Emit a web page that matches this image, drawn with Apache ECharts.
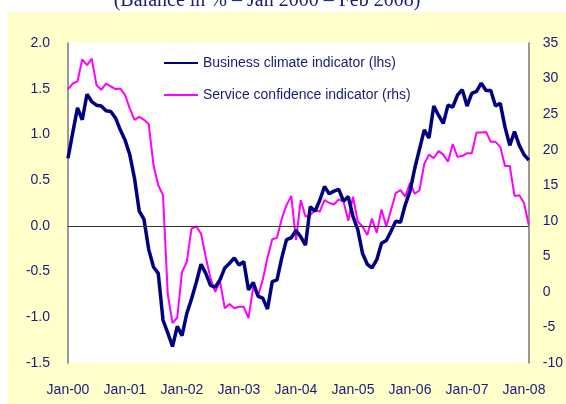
<!DOCTYPE html>
<html>
<head>
<meta charset="utf-8">
<script src="https://cdn.jsdelivr.net/npm/echarts@6/dist/echarts.min.js"></script>
<style>
  html, body { margin: 0; padding: 0; background: #fff; }
  #chart { width: 566px; height: 404px; }
</style>
</head>
<body>
<div id="chart"></div>
<script>
// monthly data, Jan 2000 .. Feb 2008
const monthNames = ["Jan", "Feb", "Mar", "Apr", "May", "Jun", "Jul", "Aug", "Sep", "Oct", "Nov", "Dec"];
const years = ["00", "01", "02", "03", "04", "05", "06", "07", "08"];
const tickLabels = ["Jan-00", "Jan-01", "Jan-02", "Jan-03", "Jan-04", "Jan-05", "Jan-06", "Jan-07", "Jan-08"];

// Business climate indicator (lhs)
const business = [
  0.74, 1.02, 1.29, 1.16, 1.44, 1.36, 1.32, 1.31, 1.26, 1.25,
  1.18, 1.05, 0.94, 0.78, 0.52, 0.16, 0.07, -0.26, -0.45, -0.52,
  -1.03, -1.17, -1.32, -1.10, -1.20, -0.96, -0.80, -0.62, -0.42, -0.52,
  -0.65, -0.67, -0.59, -0.46, -0.41, -0.35, -0.43, -0.39, -0.70, -0.62,
  -0.77, -0.79, -0.91, -0.61, -0.59, -0.35, -0.15, -0.13, -0.05, -0.12,
  -0.21, 0.21, 0.16, 0.28, 0.43, 0.35, 0.38, 0.40, 0.27, 0.32,
  0.10, -0.04, -0.30, -0.42, -0.46, -0.37, -0.19, -0.16, -0.06, 0.05,
  0.04, 0.23, 0.38, 0.63, 0.84, 1.05, 0.96, 1.31, 1.21, 1.12,
  1.32, 1.30, 1.43, 1.49, 1.31, 1.45, 1.47, 1.56, 1.48, 1.48,
  1.31, 1.34, 1.08, 0.88, 1.03, 0.88, 0.78, 0.72
];

// Service confidence indicator (rhs)
const service = [
  28.5, 29.3, 29.6, 32.7, 31.9, 32.8, 29.1, 28.4, 29.3, 28.9,
  28.5, 28.6, 27.7, 25.8, 24.2, 24.6, 24.2, 23.6, 17.8, 15.0,
  13.6, -0.3, -4.4, -3.6, 2.8, 4.2, 8.9, 9.2, 8.2, 4.9,
  1.9, 0.0, 1.5, -2.3, -1.7, -2.3, -2.1, -2.1, -3.7, 0.7,
  -0.6, 1.7, 4.8, 7.4, 7.6, 10.3, 12.2, 13.5, 7.3, 12.9,
  10.6, 10.8, 11.5, 11.3, 12.9, 12.5, 12.3, 13.0, 12.7, 10.0,
  13.4, 9.9, 9.2, 8.0, 10.3, 8.3, 11.6, 9.2, 11.5, 13.9,
  14.3, 13.4, 15.3, 13.8, 14.3, 18.0, 19.3, 18.8, 19.8, 19.3,
  18.3, 20.8, 19.0, 19.1, 19.5, 19.5, 22.4, 22.4, 22.5, 21.1,
  21.1, 20.4, 17.7, 17.7, 13.5, 13.6, 12.5, 9.4
];

const months = [];
years.forEach((y) => monthNames.forEach((m) => months.push(m + "-" + y)));
months.length = business.length;

const navy = "#000080";
const textColor = "#1a1a78";
const font = "Arial, 'Liberation Sans', sans-serif";

const chart = echarts.init(document.getElementById("chart"));
chart.setOption({
  animation: false,
  backgroundColor: "#FFFFCC",
  graphic: [
    { type: "rect", shape: { x: 0, y: 0, width: 566, height: 12 }, style: { fill: "#fff" }, z: 1 },
    { type: "rect", shape: { x: 0, y: 0, width: 8, height: 404 }, style: { fill: "#fff" }, z: 1 },
    {
      type: "text", x: 267, y: 1, z: 2,
      style: {
        text: "(Balance in % \u2013 Jan 2000 \u2013 Feb 2008)",
        font: "20px 'Liberation Serif', 'Times New Roman', serif",
        fill: textColor, align: "center", verticalAlign: "middle"
      }
    },
    { type: "rect", shape: { x: 8, y: 12, width: 558, height: 8 }, style: { fill: "#FFFFCC" }, z: 3 }
  ],
  grid: {
    left: 68, right: 37, top: 43, bottom: 41,
    show: true, backgroundColor: "#fff", borderWidth: 0
  },
  legend: {
    orient: "vertical",
    left: 158, top: 51,
    itemWidth: 34, itemHeight: 14, itemGap: 18,
    itemStyle: { opacity: 0 },
    textStyle: { color: textColor, fontSize: 14, fontFamily: font },
    data: ["Business climate indicator (lhs)", "Service confidence indicator (rhs)"]
  },
  xAxis: {
    type: "category",
    data: months,
    boundaryGap: false,
    axisLine: { show: false, onZero: false },
    axisTick: { show: false },
    splitLine: { show: false },
    axisLabel: {
      color: textColor, fontSize: 14, fontFamily: font, margin: 20,
      interval: (i, v) => tickLabels.includes(v)
    }
  },
  yAxis: [
    {
      type: "value", min: -1.5, max: 2.0, interval: 0.5,
      axisLine: { show: true, lineStyle: { color: "#777", width: 1.5 } },
      axisTick: { show: false },
      splitLine: { show: false },
      axisLabel: {
        color: textColor, fontSize: 14, fontFamily: font, margin: 18,
        formatter: (v) => v.toFixed(1)
      }
    },
    {
      type: "value", min: -10, max: 35, interval: 5,
      position: "right",
      axisLine: { show: true, lineStyle: { color: "#777", width: 1.5 } },
      axisTick: { show: false },
      splitLine: { show: false },
      axisLabel: { color: textColor, fontSize: 14, fontFamily: font, margin: 14 }
    }
  ],
  series: [
    {
      name: "Business climate indicator (lhs)",
      type: "line",
      yAxisIndex: 0,
      data: business,
      symbol: "none",
      lineStyle: { color: navy, width: 3.5 },
      itemStyle: { color: navy },
      z: 3,
      markLine: {
        silent: true,
        symbol: "none",
        label: { show: false },
        lineStyle: { color: "#333", width: 1, type: "solid" },
        data: [{ yAxis: 0 }]
      }
    },
    {
      name: "Service confidence indicator (rhs)",
      type: "line",
      yAxisIndex: 1,
      data: service,
      symbol: "none",
      lineStyle: { color: "#FF00FF", width: 2 },
      itemStyle: { color: "#FF00FF" },
      z: 2
    }
  ]
});
</script>
</body>
</html>
